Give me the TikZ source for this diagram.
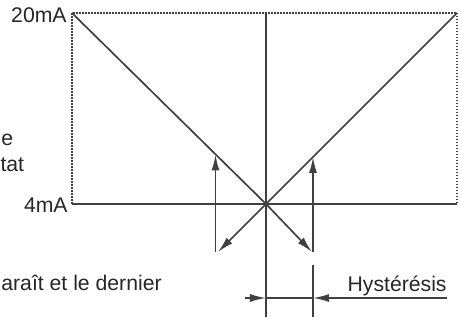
\documentclass[tikz,border=0pt]{standalone}
\usepackage{fontspec}
\setmainfont{Liberation Sans}
\usetikzlibrary{arrows.meta}
\definecolor{linegray}{HTML}{404040}
\definecolor{txtgray}{HTML}{262626}
\begin{document}
\begin{tikzpicture}[
		x=0.5pt, y=-0.5pt,
		font=\fontsize{10.6pt}{12pt}\selectfont,
		lbl/.style={text=txtgray, inner sep=0pt},
		ln/.style={draw=linegray, line width=0.85pt},
		dotline/.style={ln, dash pattern=on 0.75pt off 0.75pt},
		arr/.style={ln, -{Latex[length=8pt,width=4pt]}}
	]
		\useasboundingbox (0,0) rectangle (462,320);
		\clip (0,0) rectangle (462,320);
		\coordinate (tl) at (72,13);
		\coordinate (tr) at (457,13);
		\coordinate (bl) at (72,204);
		\coordinate (br) at (457,204);
		\coordinate (c) at (266,204);
		\coordinate (ctop) at (266,13);
		\coordinate (cbot) at (266,317);
		\coordinate (dl) at (218,252);
		\coordinate (dr) at (312,252);
		\coordinate (vl) at (215.5,252);
		\coordinate (vltip) at (215.5,154.5);
		\coordinate (vr) at (313,252);
		\coordinate (vrtip) at (313,157);
		\coordinate (htop) at (313,265);
		\coordinate (hbot) at (313,317);
		\coordinate (hl) at (245,298);
		\coordinate (hc) at (266,298);
		\coordinate (hr) at (313,298);
		\coordinate (hend) at (447,298);
		\node[lbl, anchor=east] (l20) at (67,15) {20mA};
		\node[lbl, anchor=east] (l4) at (68,205) {4mA};
		\node[lbl, anchor=base east] (hyst) at (447,292) {Hystérésis};
		\node[lbl, anchor=base east] (txta) at (13.5,146) {e};
		\node[lbl, anchor=base east] (txtb) at (24.5,172) {tat};
		\node[lbl, anchor=base west] (txtc) at (1,291) {araît et le dernier};
		\draw[dotline] (bl) -- (tl) -- (tr) -- (br);
		\draw[ln] (bl) -- (br);
		\draw[ln] (ctop) -- (cbot);
		\draw[ln] (htop) -- (hbot);
		\draw[arr] (tl) -- (c) -- (dr);
		\draw[arr] (tr) -- (c) -- (dl);
		\draw[arr] (vl) -- (vltip);
		\draw[arr] (vr) -- (vrtip);
		\draw[arr] (hl) -- (hc);
		\draw[ln] (hc) -- (hr);
		\draw[arr] (hend) -- (hr);
	\end{tikzpicture}
\end{document}
